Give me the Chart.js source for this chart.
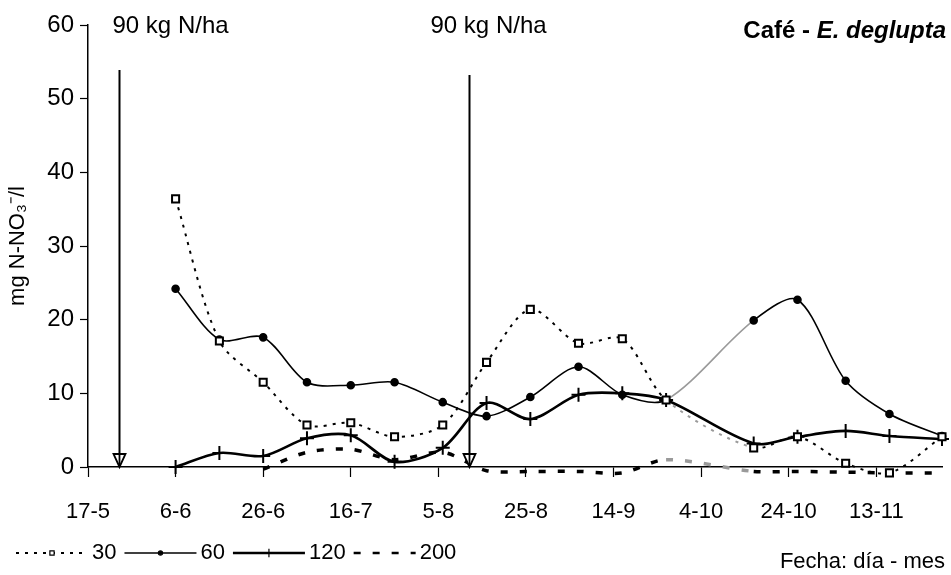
<!DOCTYPE html>
<html>
<head>
<meta charset="utf-8">
<script src="https://cdn.jsdelivr.net/npm/chart.js@4.4.1/dist/chart.umd.min.js"></script>
<style>
  html, body { margin: 0; padding: 0; background: #fff; }
  #wrap { width: 951px; height: 575px; position: relative; }
</style>
</head>
<body>
<div id="wrap"><canvas id="chart"></canvas></div>
<script>
'use strict';

// días contados desde el 17-5 (fechas de muestreo)
const sampleDays = [20, 30, 40, 50, 60, 70, 81, 91, 101, 112, 122, 132, 152, 162, 173, 183, 195];
const tickLabels = ['17-5', '6-6', '26-6', '16-7', '5-8', '25-8', '14-9', '4-10', '24-10', '13-11'];
const fertDays   = [7, 87];
const fertLabel  = '90 kg N/ha';

// mg N-NO3/l por dosis
const n30  = [36.4, 17.1, 11.5, 5.7, 6.0, 4.1, 5.7, 14.2, 21.4, 16.8, 17.4, 9.1, 2.6, 4.1, 0.5, -0.8, 4.1];
const n60  = [24.2, 17.3, 17.6, 11.5, 11.1, 11.5, 8.8, 6.9, 9.5, 13.6, 9.8, 9.1, 19.9, 22.7, 11.7, 7.2, 4.2];
const n120 = [0, 1.9, 1.5, 3.9, 4.3, 0.7, 2.6, 8.7, 6.5, 9.8, 10.0, 9.1, 3.2, 4.1, 4.9, 4.2, 3.8];
const n200 = [null, null, -0.3, 2.0, 2.4, 1.0, 2.0, -0.5, -0.6, -0.6, -0.8, 1.0, -0.6, -0.6, -0.7, -0.8, -0.8];

const FONT = '"Liberation Sans", Arial, sans-serif';

function pts(vals) {
  return sampleDays.map((d, i) => ({ x: d, y: vals[i] }));
}

// tramo 132 -> 152 sale gris en el original
const greyGap = c => (c.p0.parsed.x === 132 ? '#9a9a9a' : undefined);

const datasets = [
  {
    label: '30', data: pts(n30),
    borderColor: '#000', borderWidth: 2, borderDash: [3, 6],
    pointStyle: 'rect', pointRadius: 5, pointBorderWidth: 2,
    pointBackgroundColor: '#fff', pointBorderColor: '#000',
    segment: { borderColor: greyGap },
  },
  {
    label: '60', data: pts(n60),
    borderColor: '#000', borderWidth: 1.6,
    pointStyle: 'circle', pointRadius: 3.5,
    pointBackgroundColor: '#000', pointBorderColor: '#000',
    segment: { borderColor: greyGap },
  },
  {
    label: '120', data: pts(n120),
    borderColor: '#000', borderWidth: 2.6,
    pointStyle: 'cross', pointRadius: 7, pointBorderWidth: 2,
    pointBorderColor: '#000',
  },
  {
    label: '200', data: pts(n200),
    borderColor: '#000', borderWidth: 3.5, borderDash: [7, 12],
    pointRadius: 0, spanGaps: false,
    segment: { borderColor: greyGap },
  },
];

function drawSample(ctx, x0, x1, yy, ds) {
  ctx.save();
  ctx.strokeStyle = '#000';
  ctx.lineWidth = Math.min(ds.borderWidth, 2.5);
  ctx.setLineDash(ds.borderDash || []);
  ctx.beginPath(); ctx.moveTo(x0, yy); ctx.lineTo(x1, yy); ctx.stroke();
  ctx.setLineDash([]);
  if (ds.pointRadius > 0) {
    ctx.fillStyle = ds.pointBackgroundColor || '#000';
    ctx.lineWidth = 1.2;
    Chart.helpers.drawPoint(ctx, { pointStyle: ds.pointStyle, radius: ds.pointRadius * 0.6, borderWidth: 1.2 }, (x0 + x1) / 2, yy);
  }
  ctx.restore();
}

const decorations = {
  id: 'decorations',
  afterDraw(chart) {
    const { ctx, scales: { x, y } } = chart;
    ctx.save();
    ctx.fillStyle = '#000';
    ctx.strokeStyle = '#000';
    ctx.textBaseline = 'middle';

    // flechas de fertilización
    const tops = [70, 75];
    const labelShift = [-7, -39];
    const base = y.getPixelForValue(0);
    fertDays.forEach((d, i) => {
      const px = Math.round(x.getPixelForValue(d)) + 0.5;
      ctx.lineWidth = 2;
      ctx.beginPath(); ctx.moveTo(px, tops[i]); ctx.lineTo(px, base); ctx.stroke();
      ctx.beginPath();
      ctx.moveTo(px - 6, base - 13); ctx.lineTo(px + 6, base - 13); ctx.lineTo(px, base);
      ctx.closePath();
      ctx.fillStyle = '#fff'; ctx.fill();
      ctx.lineWidth = 1.8; ctx.stroke();
      ctx.beginPath(); ctx.moveTo(px, base - 13); ctx.lineTo(px, base); ctx.stroke();
      ctx.fillStyle = '#000';
      ctx.font = '24px ' + FONT;
      ctx.textAlign = 'left';
      ctx.fillText(fertLabel, px + labelShift[i], 26);
    });

    // título
    ctx.textAlign = 'left';
    ctx.font = 'italic bold 24px ' + FONT;
    const w2 = ctx.measureText('E. deglupta').width;
    ctx.font = 'bold 24px ' + FONT;
    const part1 = 'Café - ';
    const w1 = ctx.measureText(part1).width;
    const right = 946;
    ctx.fillText(part1, right - w2 - w1, 31);
    ctx.font = 'italic bold 24px ' + FONT;
    ctx.fillText('E. deglupta', right - w2, 31);

    // leyenda
    ctx.font = '22px ' + FONT;
    const ly = 553;
    let lx = 16;
    datasets.forEach(ds => {
      const len = ds.label === '200' ? 62 : 72;
      drawSample(ctx, lx, lx + len, ly, ds);
      ctx.fillStyle = '#000';
      ctx.textAlign = 'left';
      ctx.fillText(ds.label, lx + len + 4, ly);
      lx += len + 4 + ctx.measureText(ds.label).width + 8;
    });

    ctx.textAlign = 'right';
    ctx.fillText('Fecha: día - mes', 945, 562);
    ctx.restore();
  },
};

new Chart(document.getElementById('chart'), {
  type: 'line',
  data: { datasets },
  plugins: [decorations],
  options: {
    responsive: true,
    maintainAspectRatio: false,
    animation: false,
    layout: { padding: { top: 25, right: 5, left: 0, bottom: 0 } },
    datasets: { line: { clip: false, tension: 0.3 } },
    plugins: { legend: { display: false }, tooltip: { enabled: false } },
    scales: {
      x: {
        type: 'linear', min: 0, max: 195,
        afterBuildTicks: s => { s.ticks = tickLabels.map((_, i) => ({ value: i * 20 })); },
        afterFit: s => { s.height = 108; },
        ticks: {
          color: '#000', font: { family: FONT, size: 22 }, padding: 22,
          maxRotation: 0, autoSkip: false,
          callback: v => tickLabels[Math.round(v / 20)] || '',
        },
        grid: { drawOnChartArea: false, color: '#000', tickLength: 10, tickWidth: 1.2 },
        border: { color: '#000', width: 1.5 },
      },
      y: {
        min: 0, max: 60,
        afterFit: s => { s.width = 88; },
        ticks: { stepSize: 10, color: '#000', font: { family: FONT, size: 24 }, padding: 6 },
        grid: { drawOnChartArea: false, color: '#000', tickLength: 8, tickWidth: 1.2 },
        border: { color: '#000', width: 1.5 },
        title: {
          display: true, text: 'mg N-NO₃⁻/l', color: '#000',
          font: { family: FONT, size: 22 }, padding: { top: 5, bottom: 0 },
        },
      },
    },
  },
});
</script>
</body>
</html>
